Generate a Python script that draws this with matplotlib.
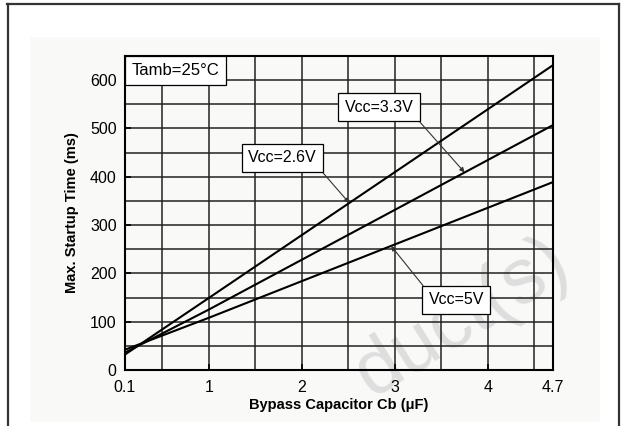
import matplotlib.pyplot as plt
from matplotlib.patches import Rectangle
from matplotlib.lines import Line2D

plt.rcParams['font.family'] = ['Liberation Sans', 'DejaVu Sans']

# capacitor values (uF) and max startup time (ms) per supply voltage
cap = [0.1, 1, 4.7]
t_26 = [32, 149, 631]
t_33 = [36, 125, 507]
t_50 = [42, 108, 389]

x_ticks = [0.1, 1, 2, 3, 4, 4.7]
x_tick_labels = ['0.1', '1', '2', '3', '4', '4.7']
y_ticks = [0, 100, 200, 300, 400, 500, 600]

W, H = 623, 426
fig = plt.figure(figsize=(W / 100, H / 100), dpi=100)

# light panel and page frame
fig.patches.append(Rectangle((30 / W, 1 - 422 / H), 570 / W, 385 / H,
                             transform=fig.transFigure, facecolor='#f9f9f7',
                             edgecolor='none', zorder=-2))
fc = '#333333'
fig.lines.append(Line2D([7 / W, 619 / W], [1 - 3.5 / H, 1 - 3.5 / H], transform=fig.transFigure, color=fc, lw=1.6))
fig.lines.append(Line2D([7.5 / W, 7.5 / W], [0, 1 - 3.5 / H], transform=fig.transFigure, color=fc, lw=1.6))
fig.lines.append(Line2D([618.5 / W, 618.5 / W], [0, 1 - 3.5 / H], transform=fig.transFigure, color=fc, lw=1.6))

# watermark
fig.text(462 / W, 1 - 318 / H, 'duct(s)', fontsize=56, color='#dedede',
         rotation=32, ha='center', va='center', zorder=-1)

ax = fig.add_axes([125 / W, 1 - 370 / H, 428 / W, 314 / H])
ax.patch.set_visible(False)

for vals in (t_26, t_33, t_50):
    ax.plot(cap, vals, color='black', lw=1.5, zorder=3)

ax.set_xlim(0.1, 4.7)
ax.set_ylim(0, 650)

ax.set_xticks(x_ticks)
ax.set_xticklabels(x_tick_labels)
ax.set_yticks(y_ticks)

# grid every 0.5 uF and 50 ms
for gx in [0.5, 1, 1.5, 2, 2.5, 3, 3.5, 4, 4.5]:
    ax.axvline(gx, color='#222222', lw=1.1, zorder=1)
for gy in range(50, 650, 50):
    ax.axhline(gy, color='#222222', lw=1.1, zorder=1)

ax.tick_params(direction='in', length=4, width=1.2, labelsize=11.5, pad=6)
ax.tick_params(axis='x', pad=7)
for s in ax.spines.values():
    s.set_linewidth(1.5)
    s.set_zorder(4)

ax.set_xlabel('Bypass Capacitor Cb (\u03bcF)', fontsize=10.5, fontweight='bold', labelpad=2)
ax.set_ylabel('Max. Startup Time (ms)', fontsize=10.5, fontweight='bold', labelpad=8)

box = dict(boxstyle='square,pad=0.4', facecolor='white', edgecolor='black', lw=0.9)
ax.annotate('Tamb=25°C', xy=(0, 1), xycoords='axes fraction',
            xytext=(7, -7), textcoords='offset pixels', fontsize=12,
            ha='left', va='top', bbox=box, zorder=5)

arrow = dict(arrowstyle='-|>', color='#333333', lw=0.8, mutation_scale=7,
             shrinkA=0, shrinkB=0)


def on_line(vals, x):
    for i in range(len(cap) - 1):
        if cap[i] <= x <= cap[i + 1]:
            f = (x - cap[i]) / (cap[i + 1] - cap[i])
            return vals[i] + f * (vals[i + 1] - vals[i])
    return vals[-1]


ax.annotate('Vcc=3.3V', xy=(3.75, on_line(t_33, 3.75)), xytext=(2.83, 544),
            fontsize=11.5, ha='center', va='center', bbox=box,
            arrowprops=dict(arrow, relpos=(1, 0)), zorder=5)
ax.annotate('Vcc=2.6V', xy=(2.51, on_line(t_26, 2.51)), xytext=(1.79, 439),
            fontsize=11.5, ha='center', va='center', bbox=box,
            arrowprops=dict(arrow, relpos=(1, 0)), zorder=5)
ax.annotate('Vcc=5V', xy=(2.96, on_line(t_50, 2.96)), xytext=(3.66, 145),
            fontsize=11.5, ha='center', va='center', bbox=box,
            arrowprops=dict(arrow, relpos=(0, 1)), zorder=5)

fig.savefig('out.png', dpi=100)
